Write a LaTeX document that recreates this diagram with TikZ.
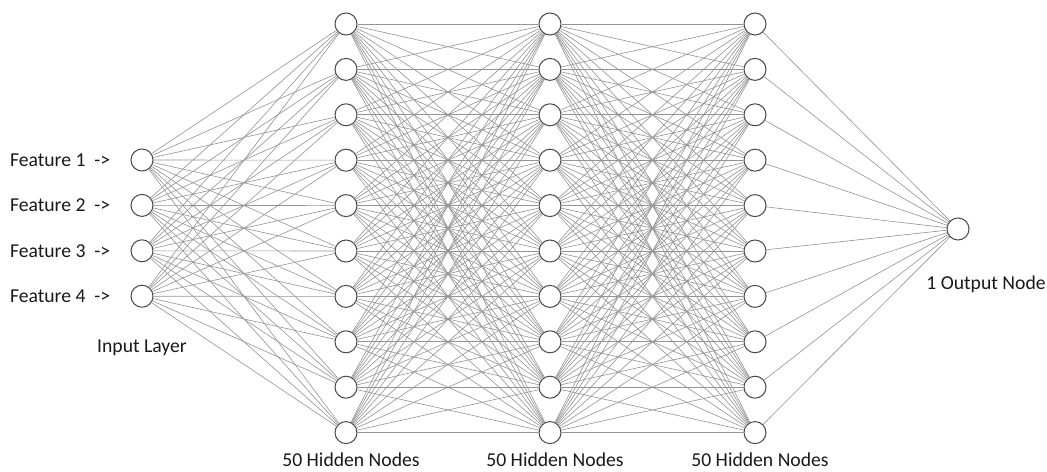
\documentclass[tikz,border=0pt]{standalone}
\usepackage{fontspec}
\setmainfont{Carlito}
\usetikzlibrary{positioning}

\begin{document}
\begin{tikzpicture}[
  x=0.02cm, y=-0.02cm,
  neuron/.style={circle, draw=black!70, fill=white, line width=0.6pt, minimum size=0.44cm, inner sep=0pt},
  link/.style={draw=black!42, line width=0.35pt},
  caption/.style={font=\fontsize{11.2}{13}\selectfont, text=black!90}
]
  \useasboundingbox (0,0) rectangle (1047,472);

  \foreach \i in {1,...,4}
    \node[neuron] (in\i) at (142,{160+45.4*(\i-1)}) {};
  \foreach \l/\x in {1/346,2/550,3/755}
    \foreach \j in {1,...,10}
      \node[neuron] (h\l-\j) at (\x,{24+45.4*(\j-1)}) {};
  \node[neuron] (out) at (958,229) {};

  \foreach \i in {1,...,4}
    \foreach \j in {1,...,10}
      \draw[link] (in\i) -- (h1-\j);
  \foreach \a/\b in {1/2,2/3}
    \foreach \i in {1,...,10}
      \foreach \j in {1,...,10}
        \draw[link] (h\a-\i) -- (h\b-\j);
  \foreach \j in {1,...,10}
    \draw[link] (h3-\j) -- (out);

  \foreach \i in {1,...,4}
    \node[caption, left=0.28cm of in\i] (feat\i) {Feature \i\ \ ->};
  \node[caption, below=0.52cm of in4] (inlabel) {Input Layer};
  \foreach \l in {1,2,3}
    \node[caption, below=0.06cm of h\l-10, xshift=0.1cm] (hlabel\l) {50 Hidden Nodes};
  \node[caption, below=0.58cm of out, xshift=0.56cm] (outlabel) {1 Output Node};
\end{tikzpicture}
\end{document}
